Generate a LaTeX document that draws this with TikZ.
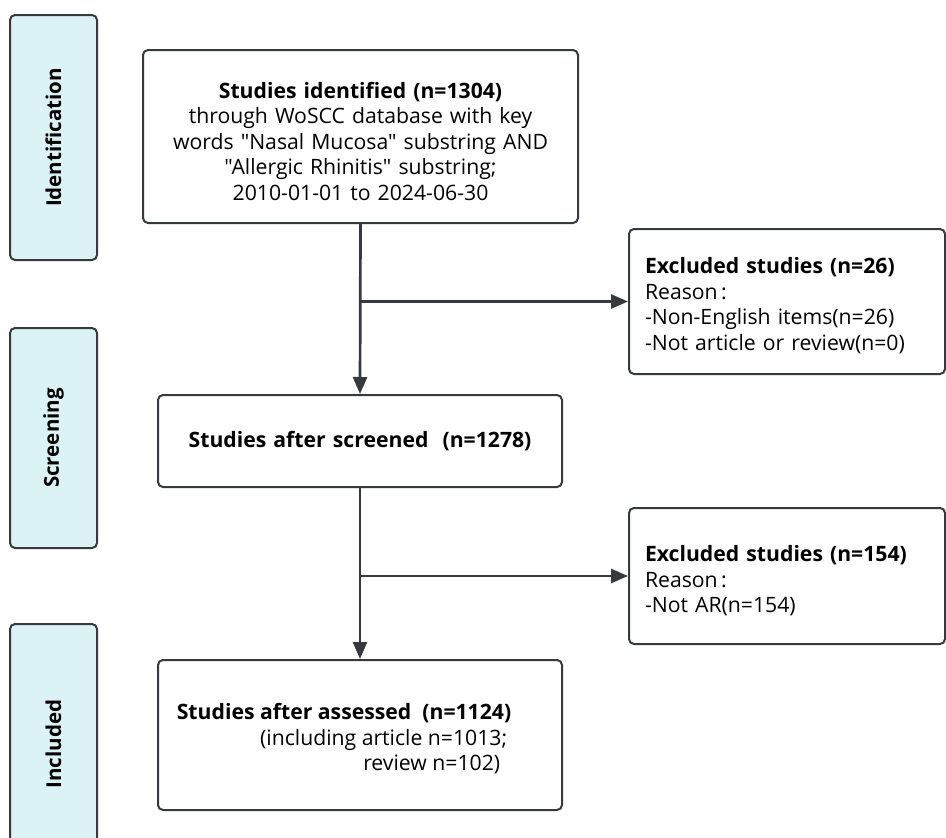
\documentclass[tikz,border=0pt]{standalone}
\usepackage{fontspec}
\setmainfont{Open Sans}[Ligatures=TeXOff]
\usepackage{tikz}
\usetikzlibrary{arrows.meta}

\definecolor{phasefill}{HTML}{DBF3F5}
\definecolor{edgegray}{HTML}{363A3E}

\begin{document}
\begin{tikzpicture}[x=1pt, y=-1pt,
	box/.style={draw=edgegray, line width=2pt, rounded corners=5pt, fill=white, inner sep=0pt, font=\fontsize{21.2}{25.5}\selectfont},
	phase/.style={draw=edgegray, line width=2pt, rounded corners=5pt, fill=phasefill, rotate=90, minimum height=87pt, inner sep=0pt, font=\bfseries\fontsize{20.5}{24}\selectfont},
	flow/.style={draw=edgegray, line width=2.7pt, -{Triangle[length=17pt,width=14pt]}}]
		\useasboundingbox (0,0) rectangle (946,838);

		% phase bars on the left
		\node[phase, minimum width=245pt] (identbar) at (53.5,137.5) {Identification};
		\node[phase, minimum width=220pt] (screenbar) at (53.5,438) {Screening};
		\node[phase, minimum width=240pt] (inclbar) at (53.5,744) {Included};

		% main flow
		\node[box, minimum width=435pt, minimum height=173pt, text width=425pt, align=center] (identified) at (360.5,136.5)
			{\rule{0pt}{26pt}\textbf{Studies identified (n=1304)}\\ through WoSCC database with key\\ words "Nasal Mucosa" substring AND\\ "Allergic Rhinitis" substring;\\ 2010-01-01 to 2024-06-30};
		\node[box, minimum width=404pt, minimum height=92pt, text width=395pt, align=center] (screened) at (360,441)
			{\textbf{Studies after screened\ \ (n=1278)}};
		\node[box, minimum width=404pt, minimum height=150pt] (assessed) at (360,735)
			{\begin{tabular}{@{}r@{}}\rule{0pt}{28pt}\textbf{Studies after assessed\ \ (n=1124)}\\ (including article n=1013;\kern4pt\\ review n=102)\kern11pt\end{tabular}\hspace*{32pt}};

		% excluded boxes
		\node[box, minimum width=316pt, minimum height=145pt, text width=284pt, align=left] (excluded1) at (787,301.5)
			{\rule{0pt}{24pt}\textbf{Excluded studies (n=26)}\\ Reason\,:\\ -Non-English items(n=26)\\ -Not article or review(n=0)};
		\node[box, minimum width=316pt, minimum height=136pt, text width=284pt, align=left] (excluded2) at (787,576)
			{\rule{0pt}{26pt}\textbf{Excluded studies (n=154)}\\ Reason\,:\\ -Not AR(n=154)};

		% connectors
		\draw[flow] (identified.south) -- (screened.north);
		\draw[flow] (identified.south |- excluded1.west) -- (excluded1.west);
		\draw[flow] (screened.south) -- (assessed.north);
		\draw[flow] (screened.south |- excluded2.west) -- (excluded2.west);
	\end{tikzpicture}
\end{document}
